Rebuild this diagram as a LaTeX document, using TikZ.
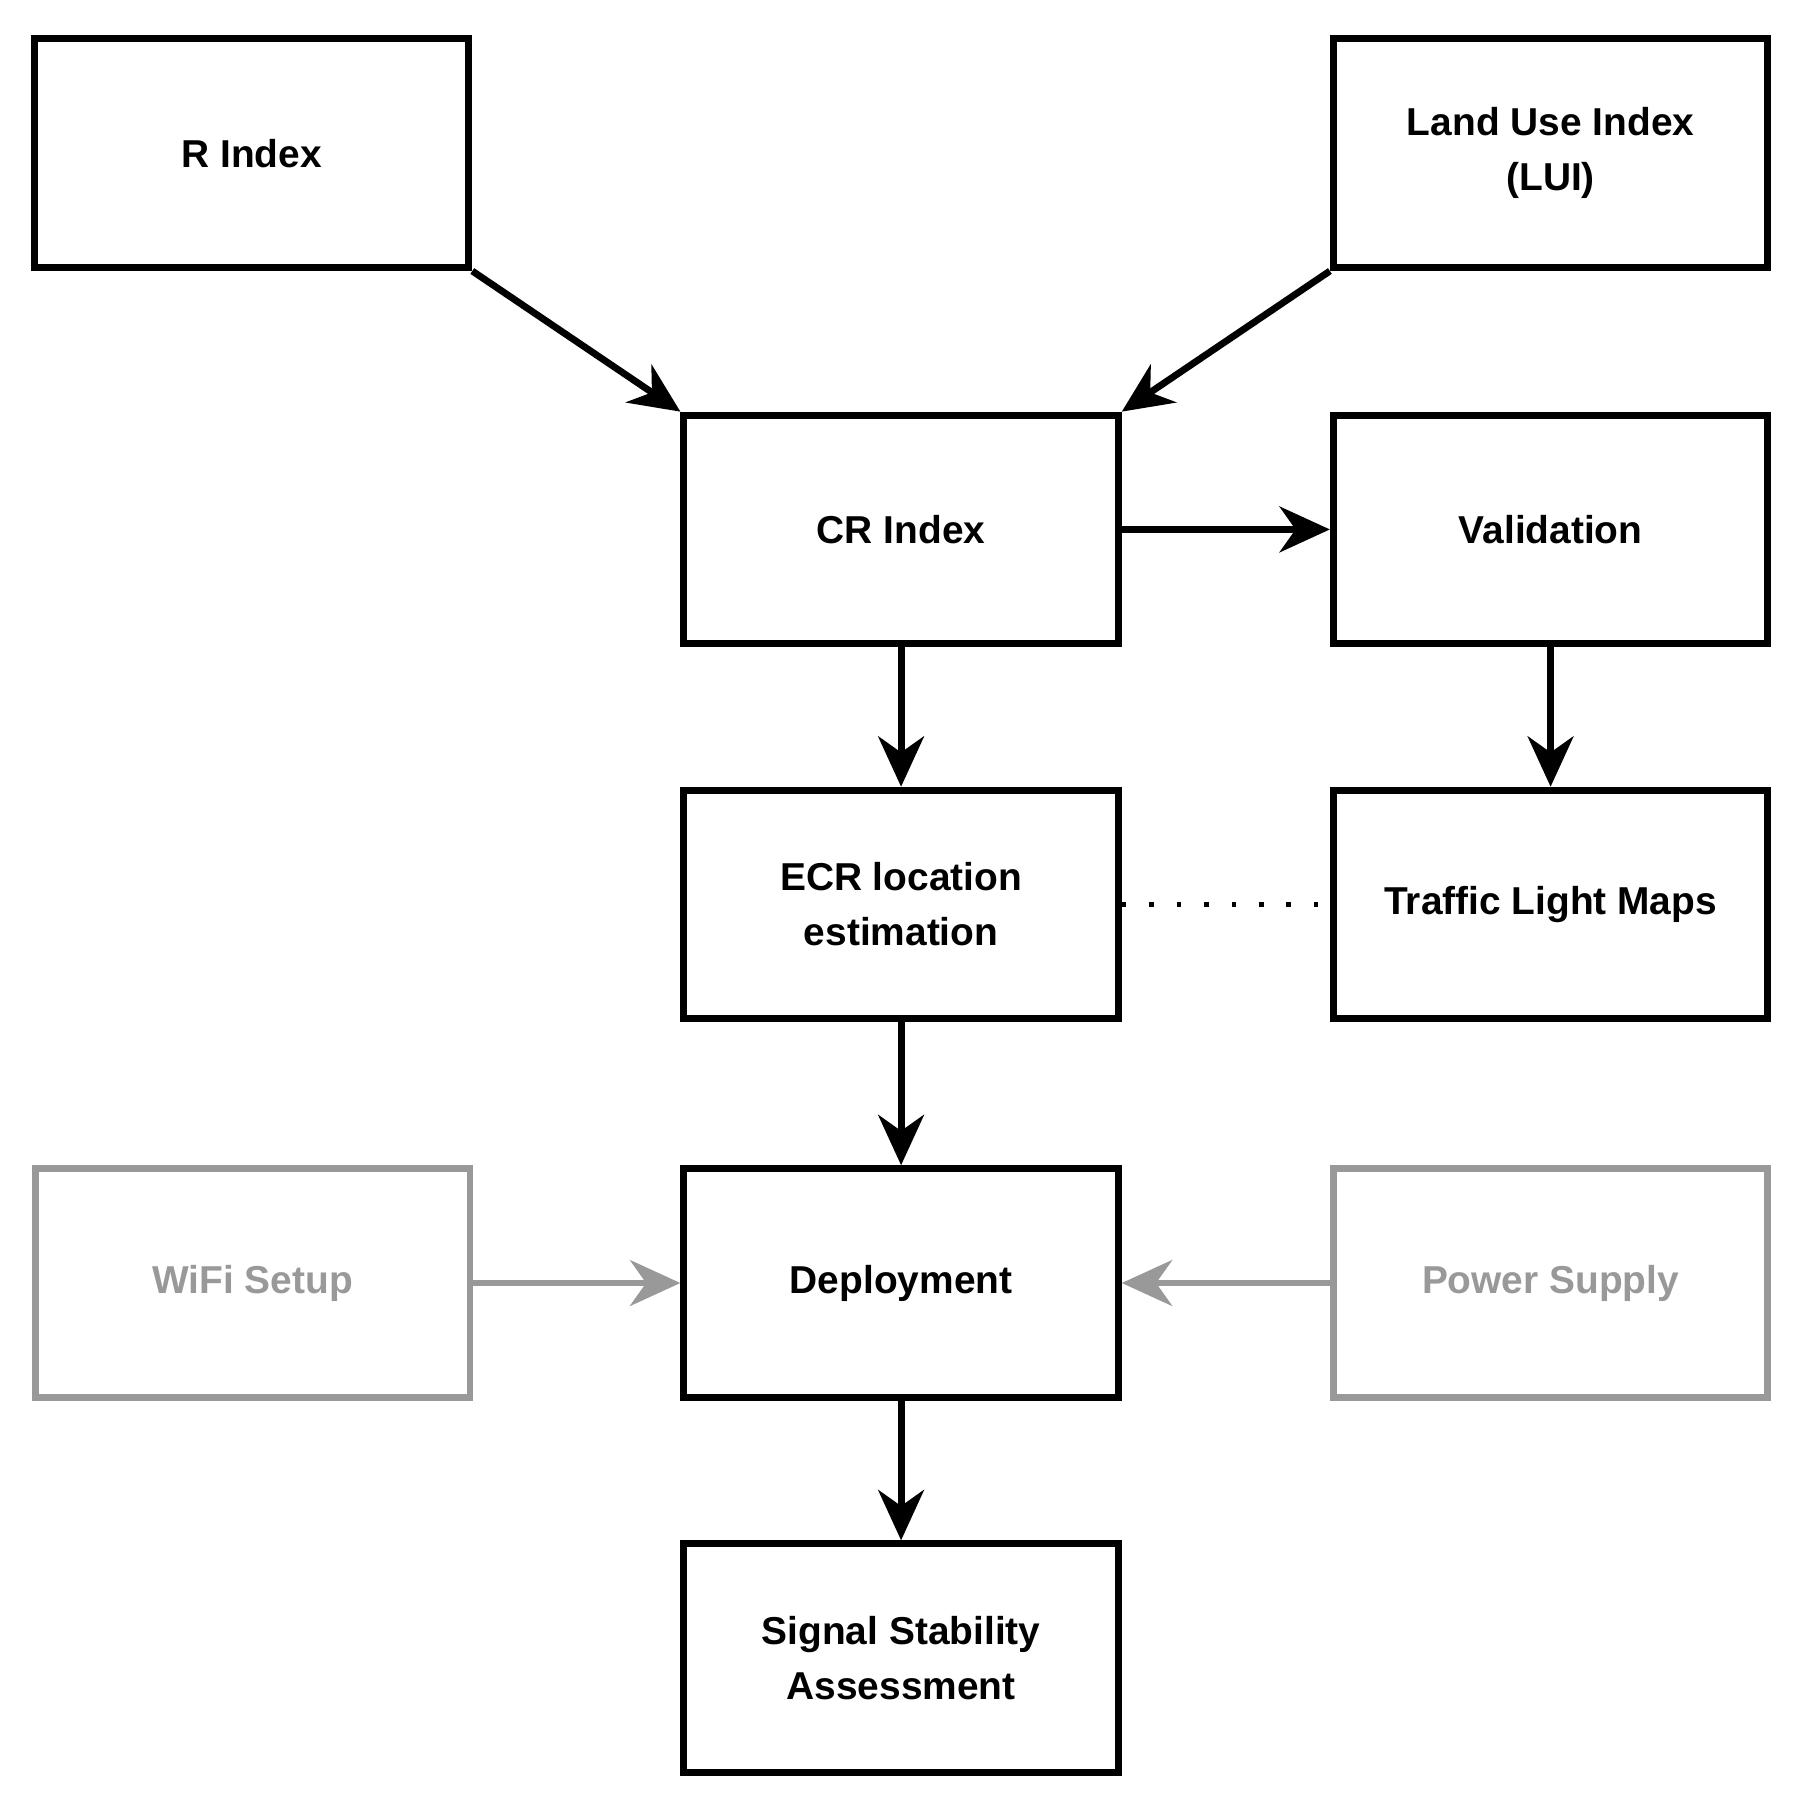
\documentclass[tikz,border=0pt]{standalone}
\usepackage{fontspec}
\setmainfont{Liberation Sans}
\usetikzlibrary{arrows.meta}
\begin{document}
\begin{tikzpicture}[x=0.5pt,y=-0.5pt,
  box/.style={draw=black,line width=3pt,minimum width=190pt,minimum height=100pt,inner sep=0pt,align=center,font=\fontsize{17}{24}\selectfont\bfseries},
  gbox/.style={box,draw=black!40,text=black!40},
  arr/.style={line width=3pt,-{Stealth[length=22pt,width=20pt,inset=7pt]}},
  garr/.style={arr,draw=black!40}]
\useasboundingbox (0,0) rectangle (1568,1568);
\node[box] (r) at (220,134) {R Index};
\node[box] (lui) at (1356,134) {Land Use Index\\(LUI)};
\node[box] (cr) at (788,463) {CR Index};
\node[box] (val) at (1356,463) {Validation};
\node[box] (ecr) at (788,791) {ECR location\\estimation};
\node[box] (tlm) at (1356,791) {Traffic Light Maps};
\node[gbox] (wifi) at (221,1122) {WiFi Setup};
\node[box] (dep) at (788,1122) {Deployment};
\node[gbox] (pow) at (1356,1122) {Power Supply};
\node[box] (sig) at (788,1450) {Signal Stability\\Assessment};
\draw[arr] (r.south east) -- (cr.north west);
\draw[arr] (lui.south west) -- (cr.north east);
\draw[arr] (cr) -- (val);
\draw[arr] (cr) -- (ecr);
\draw[arr] (val) -- (tlm);
\draw[line width=2pt,dash pattern=on 2pt off 10pt] (ecr) -- (tlm);
\draw[arr] (ecr) -- (dep);
\draw[garr] (wifi) -- (dep);
\draw[garr] (pow) -- (dep);
\draw[arr] (dep) -- (sig);
\end{tikzpicture}
\end{document}
